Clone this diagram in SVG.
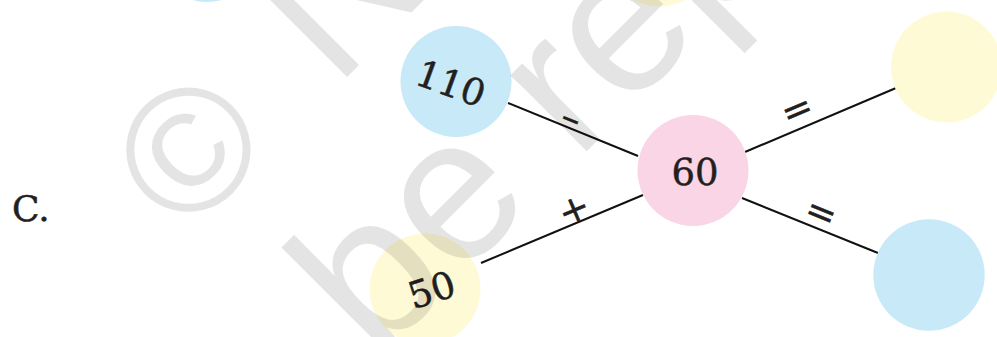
<svg xmlns="http://www.w3.org/2000/svg" width="997" height="337" viewBox="0 0 997 337">
<style>
.blue{fill:#c7e9f8}
.pink{fill:#f9d5e5}
.yellow{fill:#fffad6}
.num{font-family:"DejaVu Serif","Liberation Serif",serif;font-size:37px;fill:#231f20;stroke:#231f20;stroke-width:0.5;text-anchor:middle}
.op{font-family:"DejaVu Serif","Liberation Serif",serif;font-size:37px;fill:#231f20;stroke:#231f20;stroke-width:0.5;text-anchor:middle}
.conn line{stroke:#111;stroke-width:2;fill:none}
.wm{font-family:"Liberation Sans",Arial,sans-serif;fill:#000;fill-opacity:0.105}
</style>
<rect width="997" height="337" fill="#fff"/>
<text x="12" y="221" class="num" style="text-anchor:start;font-size:36px">C.</text>
<g id="node-top-left"><circle cx="207" cy="-53.5" r="55.5" class="blue"/></g>
<g id="node-top-mid"><circle cx="659" cy="-49" r="55.5" class="yellow"/></g>
<g class="conn" id="connectors">
<line x1="508" y1="103" x2="638" y2="156"/>
<line x1="481" y1="263" x2="643" y2="195"/>
<line x1="745" y1="152" x2="896" y2="88"/>
<line x1="742" y1="198" x2="878" y2="253"/>
<text class="op" transform="translate(571,119) rotate(22)" y="11">–</text>
<text class="op" transform="translate(574,210) rotate(-23)" y="12">+</text>
<text class="op" transform="translate(797,110) rotate(-23)" y="12">=</text>
<text class="op" transform="translate(821,213) rotate(22)" y="12">=</text>
</g>
<g id="node-110"><circle cx="456" cy="81.5" r="55.5" class="blue"/><text class="num" transform="translate(451,83) rotate(20)" y="13.5">110</text></g>
<g id="node-50"><circle cx="425" cy="289" r="55.5" class="yellow"/><text class="num" transform="translate(431.5,289.5) rotate(-18)" y="13.5">50</text></g>
<g id="node-60"><circle cx="693" cy="170.5" r="55.5" class="pink"/><text class="num" x="695" y="185">60</text></g>
<g id="node-right-top"><circle cx="946.5" cy="67" r="55.5" class="yellow"/></g>
<g id="node-right-bottom"><circle cx="929" cy="275" r="55.7" class="blue"/></g>
<g id="watermark" class="wm" transform="translate(186,238) rotate(-45)">
<text x="64" y="0" font-size="176" text-anchor="middle">©</text>
<text x="211" y="0" font-size="204">N</text>
<text x="47" y="222" font-size="204">be rep</text>
</g>
</svg>
